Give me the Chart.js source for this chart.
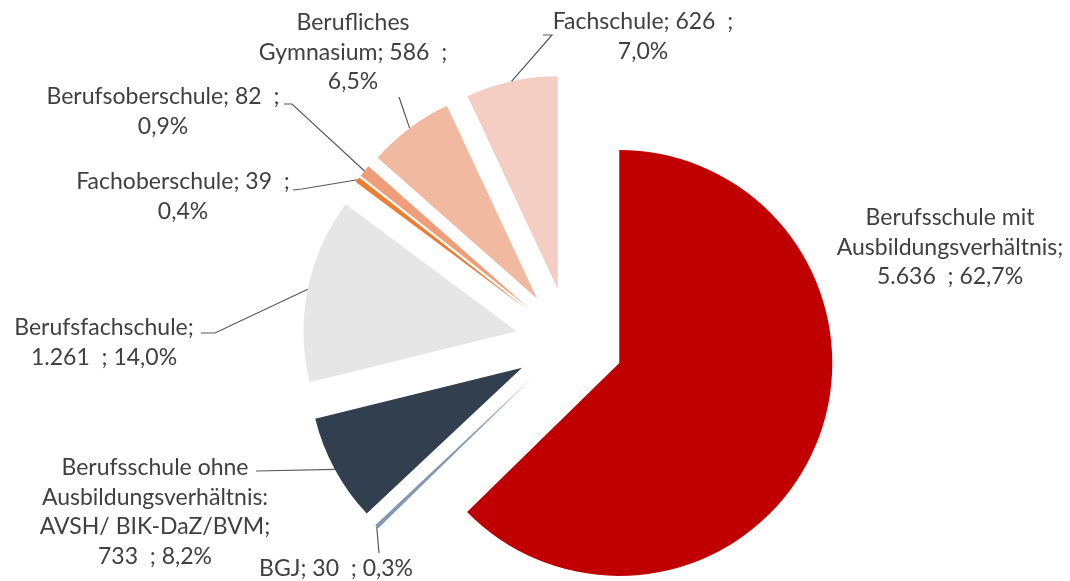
<!DOCTYPE html>
<html>
<head>
<meta charset="utf-8">
<script src="https://cdn.jsdelivr.net/npm/chart.js@4.4.0/dist/chart.umd.min.js"></script>
<style>
  html, body { margin: 0; padding: 0; background: #fff; }
  #wrap { width: 1070px; height: 581px; }
</style>
</head>
<body>
<div id="wrap"><canvas id="schoolChart" width="1070" height="581"></canvas></div>
<script>
// Schüler nach Schulart (Reihenfolge im Uhrzeigersinn ab 12 Uhr)
const categories = [
    'Berufsschule mit Ausbildungsverhältnis',
    'BGJ',
    'Berufsschule ohne Ausbildungsverhältnis: AVSH/ BIK-DaZ/BVM',
    'Berufsfachschule',
    'Fachoberschule',
    'Berufsoberschule',
    'Berufliches Gymnasium',
    'Fachschule'
];
const counts = [5636, 30, 733, 1261, 39, 82, 586, 626];
const countLabels = ['5.636', '30', '733', '1.261', '39', '82', '586', '626'];
const percentLabels = ['62,7%', '0,3%', '8,2%', '14,0%', '0,4%', '0,9%', '6,5%', '7,0%'];

const colors = ['#C00000', '#8497B0', '#323F4F', '#E7E6E6', '#ED7D31', '#F09E79', '#F2B9A1', '#F4CEC2'];

// Beschriftungen: Zeilen, Position der ersten Zeile, Knickpunkte der Führungslinie
const labelLines = [
    ['Berufsschule mit', 'Ausbildungsverhältnis;', countLabels[0] + '  ; ' + percentLabels[0]],
    ['BGJ; ' + countLabels[1] + '  ; ' + percentLabels[1]],
    ['Berufsschule ohne', 'Ausbildungsverhältnis:', 'AVSH/ BIK-DaZ/BVM;', countLabels[2] + '  ; ' + percentLabels[2]],
    ['Berufsfachschule;', countLabels[3] + '  ; ' + percentLabels[3]],
    ['Fachoberschule; ' + countLabels[4] + '  ;', percentLabels[4]],
    ['Berufsoberschule; ' + countLabels[5] + '  ;', percentLabels[5]],
    ['Berufliches', 'Gymnasium; ' + countLabels[6] + '  ;', percentLabels[6]],
    ['Fachschule; ' + countLabels[7] + '  ;', percentLabels[7]]
];
const labelPos = [
    [950, 218], [336, 569], [155, 468], [104, 328],
    [183, 182], [163, 97], [353, 23], [643, 22]
];
const leaders = [
    null,
    [[379, 553]],
    [[256, 471]],
    [[215, 333], [201, 333]],
    [[302, 189], [293, 190]],
    [[292, 104], [284, 104]],
    [[399, 97]],
    [[552, 35], [543, 35]]
];

const explodeDist = 54;

const explodePlugin = {
    id: 'explode',
    beforeDatasetsDraw(chart) {
        const area = chart.chartArea;
        const cx = (area.left + area.right) / 2;
        const cy = (area.top + area.bottom) / 2;
        chart.getDatasetMeta(0).data.forEach(function (arc) {
            const mid = (arc.startAngle + arc.endAngle) / 2;
            arc.x = cx + Math.cos(mid) * explodeDist;
            arc.y = cy + Math.sin(mid) * explodeDist;
        });
    }
};

const labelPlugin = {
    id: 'sliceLabels',
    afterDatasetsDraw(chart) {
        const ctx = chart.ctx;
        const arcs = chart.getDatasetMeta(0).data;
        ctx.save();
        ctx.strokeStyle = '#595959';
        ctx.lineWidth = 1.2;
        arcs.forEach(function (arc, i) {
            if (!leaders[i]) return;
            const mid = (arc.startAngle + arc.endAngle) / 2;
            ctx.beginPath();
            ctx.moveTo(arc.x + Math.cos(mid) * arc.outerRadius, arc.y + Math.sin(mid) * arc.outerRadius);
            leaders[i].forEach(function (p) { ctx.lineTo(p[0], p[1]); });
            ctx.stroke();
        });
        ctx.fillStyle = '#404040';
        ctx.font = '23px Lato, "Open Sans", sans-serif';
        ctx.textAlign = 'center';
        ctx.textBaseline = 'middle';
        labelLines.forEach(function (lines, i) {
            lines.forEach(function (t, k) {
                ctx.fillText(t, labelPos[i][0], labelPos[i][1] + k * 29.5);
            });
        });
        ctx.restore();
    }
};

new Chart(document.getElementById('schoolChart'), {
    type: 'pie',
    data: {
        labels: categories,
        datasets: [{
            data: counts,
            backgroundColor: colors,
            borderWidth: 0
        }]
    },
    options: {
        responsive: false,
        animation: false,
        layout: {
            padding: { top: 129, bottom: 26, left: 100, right: 31 }
        },
        plugins: {
            legend: { display: false },
            tooltip: { enabled: false }
        }
    },
    plugins: [explodePlugin, labelPlugin]
});
</script>
</body>
</html>
